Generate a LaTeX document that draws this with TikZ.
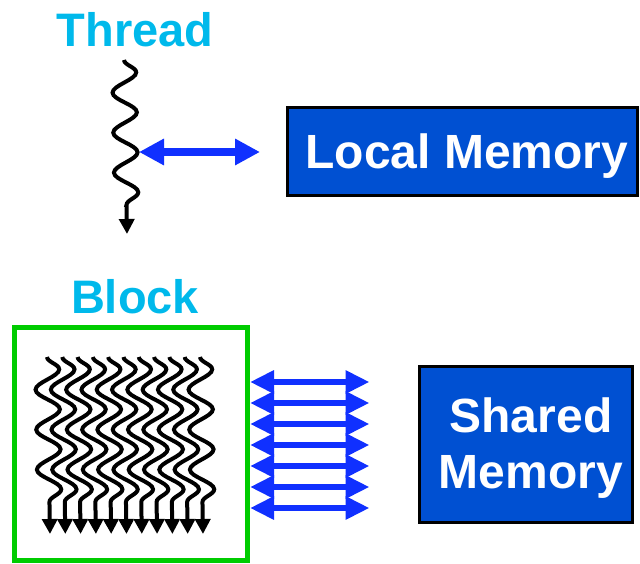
\documentclass[tikz,border=0pt]{standalone}
\usepackage{fontspec}
\setmainfont{Liberation Sans}
\usetikzlibrary{arrows.meta,decorations.pathmorphing,positioning}

\definecolor{titlecyan}{RGB}{0,185,235}
\definecolor{memblue}{RGB}{0,80,210}
\definecolor{linkblue}{RGB}{16,48,255}
\definecolor{blockgreen}{RGB}{0,204,0}

\tikzset{
    title/.style={text=titlecyan, font=\fontsize{47}{55}\selectfont\bfseries},
    memory/.style={draw=black, line width=3pt, fill=memblue, text=white,
        align=center, font=\fontsize{48}{56}\selectfont\bfseries},
    thread/.style={decorate, line width=4pt,
        decoration={snake, segment length=40pt, amplitude=12pt, post length=16pt},
        -{Triangle[length=15pt,width=15pt]}},
    warp/.style={thread, decoration={amplitude=12pt},
        preaction={draw=white, line width=9pt}},
    link/.style={linkblue, line width=8pt,
        {Triangle[length=25pt,width=25pt]}-{Triangle[length=25pt,width=25pt]}},
    shared link/.style={linkblue, line width=6pt,
        {Triangle[length=24pt,width=22pt]}-{Triangle[length=24pt,width=22pt]}}
}

\begin{document}
\begin{tikzpicture}[x=1pt,y=-1pt]
    \useasboundingbox (0,0) rectangle (640,564);

    % thread and its local memory
    \node[title] (thread label) at (135,30) {Thread};
    \coordinate (thr top) at (124,60);
    \coordinate (thr end) at (127,234);
    \coordinate (thr tap) at (139,152);
    \draw[thread] (thr top) -- (thr end);

    \node[memory, minimum width=350pt, minimum height=88pt] (local) at (462.5,151.5) {};
    \node[memory, draw=none, fill=none] (local text) at (467,156) {Local Memory};
    \draw[link, shorten >=26pt] (thr tap) -- (thr tap -| local.west);

    % block and its shared memory
    \node[title] (block label) at (135,297) {Block};
    \node[draw=blockgreen, line width=5pt, minimum size=233pt] (block) at (131,444) {};

    \foreach \i in {0,...,10}
    \draw[warp] (47+15.3*\i,357) -- (50+15.3*\i,534);

    \node[memory, minimum width=213pt, minimum height=156pt] (shared) at (525.5,444) {};
    \node[memory, draw=none, fill=none] (shared text) at (531,448) {Shared\\Memory};

    \foreach \y in {-62,-41,...,64} {
        \path (block.east) ++(0,\y) coordinate (sl);
        \draw[shared link, shorten >=48pt] (sl) -- (sl -| shared.west);
    }
\end{tikzpicture}
\end{document}
